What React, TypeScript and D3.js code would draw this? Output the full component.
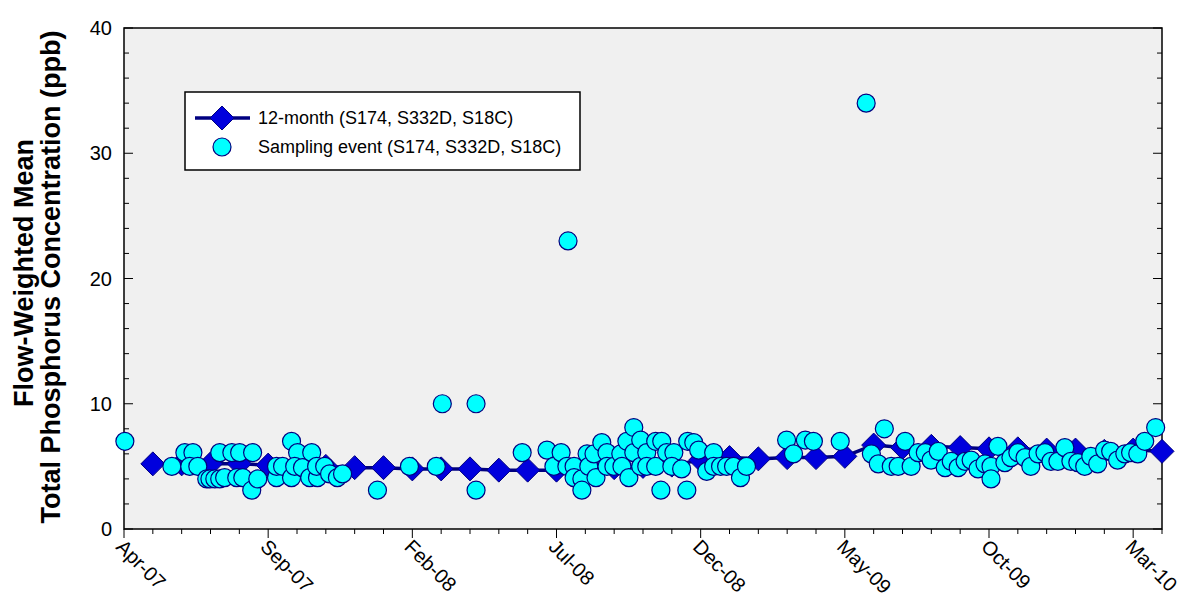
import React from "react";
import * as d3 from "d3";

const tickLabels = ["Apr-07","Sep-07","Feb-08","Jul-08","Dec-08","May-09","Oct-09","Mar-10"];
const monthlyOffsets = d3.range(1, 37);
const monthlyValues = [5.2,5.2,5.2,5.2,5.1,5.0,5.0,4.9,4.9,4.8,4.8,4.8,4.7,4.7,4.7,4.8,4.9,5.0,5.1,5.5,5.7,5.6,5.7,5.7,5.8,6.7,6.5,6.6,6.5,6.4,6.4,6.3,6.3,6.2,6.3,6.2];
// months since Apr-07
const sampleOffsets = [0.03,1.66,2.11,2.39,2.28,2.56,2.87,2.98,3.15,3.32,3.49,3.32,3.74,4.01,3.91,4.12,4.46,4.43,4.64,5.29,5.29,5.5,5.81,5.81,6.02,5.92,6.19,6.51,6.44,6.71,6.68,6.96,7.13,7.4,7.58,8.79,9.9,10.83,11.04,12.21,12.21,13.81,14.67,14.91,15.16,15.36,15.4,15.61,15.61,15.88,15.88,16.06,16.12,16.3,16.37,16.57,16.75,16.75,16.99,17.23,17.27,17.44,17.51,17.68,17.68,17.92,17.92,18.13,18.13,18.44,18.44,18.62,18.65,18.82,19.07,19,19.34,19.52,19.55,19.76,19.93,20.21,20.45,20.45,20.69,20.9,21.14,21.38,21.59,22.98,23.22,23.63,23.91,24.84,25.74,25.92,26.16,26.37,26.61,26.85,27.09,27.3,27.54,27.79,27.99,28.24,28.48,28.69,28.93,29.17,29.38,29.62,29.86,30.07,30.07,30.31,30.55,30.76,31,31.25,31.45,31.7,31.94,32.15,32.39,32.63,32.84,33.08,33.32,33.53,33.77,34.01,34.22,34.46,34.71,34.91,35.16,35.4,35.78];
const sampleValues = [7.0,5.0,6.1,6.1,5.0,5.0,4.0,4.0,4.0,4.0,4.1,6.1,6.1,6.1,4.1,4.1,6.1,3.1,4.0,4.1,5.0,5.0,7.0,4.1,6.1,5.0,4.9,6.1,4.1,4.1,5.0,5.0,4.4,4.1,4.4,3.1,5.0,5.0,10.0,10.0,3.1,6.1,6.3,5.0,6.1,5.0,23.0,5.0,4.1,4.0,3.1,6.0,5.0,6.0,4.1,6.9,6.1,5.0,5.0,6.0,5.0,7.0,4.1,8.1,6.1,7.1,5.0,6.1,5.0,7.0,5.0,3.1,7.0,6.1,6.1,5.0,4.8,3.1,7.0,6.9,6.3,4.6,6.1,5.0,5.0,5.0,5.0,4.1,5.0,7.1,6.0,7.1,7.0,7.0,34.0,6.0,5.2,8.0,5.0,5.0,7.0,5.0,6.1,6.1,5.5,6.2,4.9,5.4,4.9,5.4,5.5,4.8,5.2,5.0,4.0,6.6,5.3,5.7,6.1,5.7,5.0,6.0,6.1,5.4,5.4,6.5,5.4,5.3,5.0,5.8,5.2,6.3,6.2,5.5,6.0,6.1,6.0,7.0,8.1];

const L = 124, R = 1162, T = 28, B = 529;
const x = d3.scaleLinear().domain([0, 36]).range([L, R]);
const y = d3.scaleLinear().domain([0, 40]).range([B, T]);
const font = "Arial, 'Liberation Sans', sans-serif";
const diamond = (cx: number, cy: number, r: number) => `M${cx},${cy - r}L${cx + r},${cy}L${cx},${cy + r}L${cx - r},${cy}Z`;

export default function App() {
  const line = d3.line<number>().x((d) => x(d)).y((d, i) => y(monthlyValues[i]));
  return (
    <svg width={1199} height={615} style={{ position: "absolute", left: 0, top: 0 }} fontFamily={font}>
      <rect x={L} y={T} width={R - L} height={B - T} fill="#f0f0f0" stroke="#000" strokeWidth={1.5} />
      {d3.range(0, 41, 2).map((v) => (
        <line key={"yt" + v} x1={L} x2={L + (v % 10 === 0 ? 9 : 5)} y1={y(v)} y2={y(v)} stroke="#000" />
      ))}
      {d3.range(0, 41, 2).map((v) => (
        <line key={"yr" + v} x1={R} x2={R - (v % 10 === 0 ? 9 : 5)} y1={y(v)} y2={y(v)} stroke="#000" />
      ))}
      {d3.range(0, 41, 10).map((v) => (
        <text key={"yl" + v} x={L - 12} y={y(v) + 7} textAnchor="end" fontSize={20}>{v}</text>
      ))}
      {d3.range(0, 37).map((m) => (
        <line key={"xt" + m} x1={x(m)} x2={x(m)} y1={B} y2={B + (m % 5 === 0 ? 9 : 5)} stroke="#000" />
      ))}
      {tickLabels.map((t, i) => (
        <text key={t} transform={`translate(${x(i * 5) - 9},${B + 19}) rotate(45)`} fontSize={20}>{t}</text>
      ))}
      <text transform={`translate(33,273) rotate(-90)`} textAnchor="middle" fontSize={27} fontWeight="bold">Flow-Weighted Mean</text>
      <text transform={`translate(60,277) rotate(-90)`} textAnchor="middle" fontSize={27} fontWeight="bold">Total Phosphorus Concentration (ppb)</text>
      <path d={line(monthlyOffsets) || ""} fill="none" stroke="#000080" strokeWidth={3.5} />
      {monthlyOffsets.map((m, i) => (
        <path key={"d" + i} d={diamond(x(m), y(monthlyValues[i]), 12)} fill="#0000dd" stroke="#000080" strokeWidth={1} />
      ))}
      {sampleOffsets.map((m, i) => (
        <circle key={"c" + i} cx={x(m)} cy={y(sampleValues[i])} r={9} fill="#00ffff" stroke="#000080" strokeWidth={1.2} />
      ))}
      <g>
        <rect x={185} y={92} width={395} height={78} fill="#fff" stroke="#000" strokeWidth={1.5} />
        <line x1={195} x2={250} y1={118} y2={118} stroke="#000080" strokeWidth={3.5} />
        <path d={diamond(222, 118, 12)} fill="#0000dd" stroke="#000080" />
        <text x={258} y={124} fontSize={18}>12-month (S174, S332D, S18C)</text>
        <circle cx={222} cy={147} r={9} fill="#00ffff" stroke="#000080" strokeWidth={1.2} />
        <text x={258} y={153} fontSize={18}>Sampling event (S174, S332D, S18C)</text>
      </g>
    </svg>
  );
}
